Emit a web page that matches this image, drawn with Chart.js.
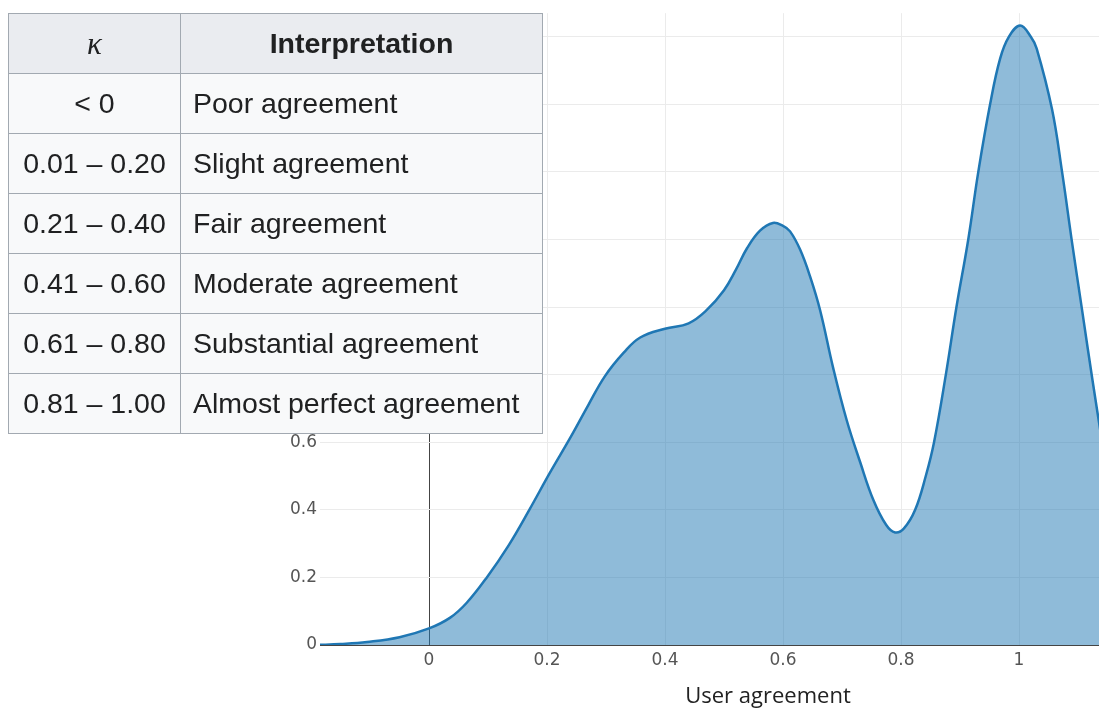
<!DOCTYPE html>
<html>
<head>
<meta charset="utf-8">
<script src="https://cdn.jsdelivr.net/npm/chart.js@4/dist/chart.umd.min.js"></script>
<style>
  html, body { margin: 0; padding: 0; background: #fff; overflow: hidden; }
  #wrap { position: absolute; left: 0; top: 0; width: 1216px; height: 711px; }
  #kappa {
    position: absolute; left: 8px; top: 13px;
    width: 534px; table-layout: fixed;
    border-collapse: collapse;
    font-family: "Liberation Sans", Arial, sans-serif;
    font-size: 28.5px; color: #202122;
    z-index: 2;
  }
  #kappa th, #kappa td { border: 1px solid #a2a9b1; height: 59px; padding: 0; white-space: nowrap; }
  #kappa th { background: #eaecf0; font-weight: bold; text-align: center; }
  #kappa td { background: #f8f9fa; padding-left: 12px; }
  #kappa td.k { text-align: center; padding: 0; }
  #kappa th.kap { font-family: "Liberation Serif", serif; font-style: italic; font-weight: normal; font-size: 31px; }
</style>
</head>
<body>
<div id="wrap"><canvas id="mychart" width="1216" height="711"></canvas></div>
<table id="kappa"><colgroup><col style="width:172px"><col style="width:362px"></colgroup><tbody id="kbody"></tbody></table>
<script>
// kappa interpretation table
var kappaRanges = ['< 0', '0.01 – 0.20', '0.21 – 0.40', '0.41 – 0.60', '0.61 – 0.80', '0.81 – 1.00'];
var kappaMeaning = ['Poor agreement', 'Slight agreement', 'Fair agreement', 'Moderate agreement', 'Substantial agreement', 'Almost perfect agreement'];

// density curve
var userAgreement = [-0.19, -0.15, -0.105, -0.05, 0.00, 0.036, 0.064, 0.098, 0.135, 0.17, 0.205, 0.24, 0.27, 0.298, 0.33, 0.358, 0.40, 0.44, 0.47, 0.50, 0.52, 0.539, 0.561, 0.583, 0.60, 0.612, 0.629, 0.646, 0.663, 0.685, 0.708, 0.731, 0.753, 0.775, 0.79, 0.805, 0.824, 0.842, 0.856, 0.876, 0.894, 0.914, 0.931, 0.951, 0.968, 0.983, 1.002, 1.02, 1.03, 1.056, 1.073, 1.09, 1.107, 1.124, 1.14];
var density = [0.000, 0.003, 0.009, 0.023, 0.049, 0.081, 0.125, 0.20, 0.295, 0.40, 0.51, 0.615, 0.71, 0.795, 0.865, 0.91, 0.936, 0.952, 0.99, 1.05, 1.11, 1.174, 1.226, 1.249, 1.24, 1.224, 1.17, 1.09, 0.99, 0.82, 0.665, 0.54, 0.43, 0.355, 0.333, 0.345, 0.4, 0.5, 0.6, 0.8, 1.0, 1.2, 1.4, 1.6, 1.735, 1.8, 1.833, 1.8, 1.765, 1.585, 1.40, 1.19, 0.99, 0.79, 0.61];

var xTicks = [0, 0.2, 0.4, 0.6, 0.8, 1, 1.2];
var yTicks = [0, 0.2, 0.4, 0.6, 0.8, 1, 1.2, 1.4, 1.6, 1.8];

// build table
var html = '<tr><th class="kap">κ</th><th>Interpretation</th></tr>';
for (var i = 0; i < kappaRanges.length; i++) {
  html += '<tr><td class="k">' + kappaRanges[i].replace('<', '&lt;') + '</td><td>' + kappaMeaning[i] + '</td></tr>';
}
document.getElementById('kbody').innerHTML = html;

var points = [];
for (var i = 0; i < userAgreement.length; i++) {
  points.push({ x: userAgreement[i], y: density[i] });
}

var tickFont = { family: '"DejaVu Sans", Verdana, sans-serif', size: 17 };
var gridColor = function (c) { return c.tick && c.tick.value === 0 ? '#444' : '#ebebeb'; };

var ctx = document.getElementById('mychart');
var myChart = new Chart(ctx, {
  type: 'line',
  data: {
    datasets: [{
      data: points,
      borderColor: '#1f77b4',
      backgroundColor: 'rgba(31,119,180,0.5)',
      borderWidth: 2.5,
      fill: 'origin',
      pointRadius: 0,
      tension: 0.4
    }]
  },
  options: {
    responsive: false,
    animation: false,
    layout: { padding: 0 },
    plugins: { legend: { display: false }, tooltip: { enabled: false } },
    scales: {
      x: {
        type: 'linear',
        min: (320 - 429) / 590,
        max: (1216 - 429) / 590,
        afterBuildTicks: function (axis) { axis.ticks = xTicks.map(function (v) { return { value: v }; }); },
        afterFit: function (axis) { axis.height = 66; },
        grid: { drawTicks: false, color: gridColor, lineWidth: 1 },
        border: { display: false },
        ticks: {
          font: tickFont, color: '#555', padding: 5, maxRotation: 0,
          callback: function (v) { return String(v); }
        },
        title: {
          display: true,
          text: 'User agreement',
          font: { family: '"Open Sans", sans-serif', size: 22 },
          color: '#222',
          padding: { top: 0, bottom: 1 }
        }
      },
      y: {
        min: 0,
        max: 645 / 345,
        afterBuildTicks: function (axis) { axis.ticks = yTicks.map(function (v) { return { value: v }; }); },
        afterFit: function (axis) { axis.width = 320; },
        grid: { drawTicks: false, color: gridColor, lineWidth: 1 },
        border: { display: false },
        ticks: {
          font: tickFont, color: '#555', padding: 3,
          callback: function (v) { return String(v); }
        }
      }
    }
  }
});
</script>
</body>
</html>
